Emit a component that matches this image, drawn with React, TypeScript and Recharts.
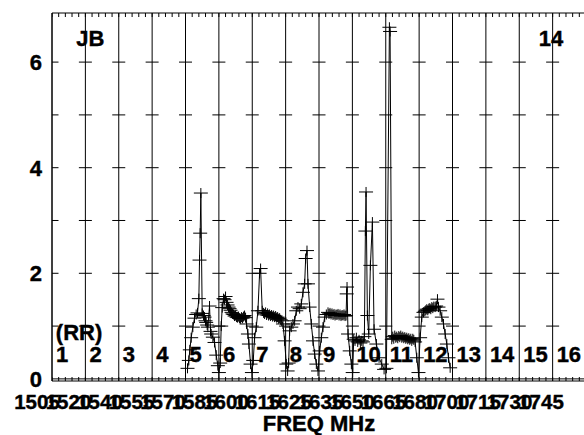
import React from "react";
import {
  ComposedChart,
  Line,
  Scatter,
  XAxis,
  YAxis,
  CartesianGrid,
  ReferenceLine,
  ReferenceDot,
} from "recharts";

// position along the band, in channel units (channel n spans n-1 .. n)
const chanPos = [
  4.06, 4.1, 4.13, 4.17, 4.22, 4.27, 4.32, 4.36, 4.4, 4.42, 4.44, 4.46, 4.5, 4.54, 4.57, 4.6, 4.62, 4.65, 4.67, 4.72, 4.75, 4.77, 4.82, 4.87, 4.92, 4.97,
  5.0, 5.04, 5.07, 5.1, 5.14, 5.17, 5.2, 5.23, 5.26, 5.29, 5.32, 5.35, 5.38, 5.41, 5.44, 5.47, 5.5, 5.53, 5.56, 5.59, 5.62, 5.65, 5.68, 5.71, 5.74, 5.77, 5.8, 5.83, 5.87, 5.9, 5.95,
  5.99, 6.03, 6.07, 6.12, 6.17, 6.22, 6.25, 6.3, 6.34, 6.37, 6.4, 6.43, 6.46, 6.49, 6.52, 6.55, 6.58, 6.61, 6.64, 6.67, 6.7, 6.73, 6.76, 6.79, 6.82, 6.85, 6.88, 6.92, 6.97, 7.02,
  7.06, 7.09, 7.12, 7.17, 7.22, 7.27, 7.32, 7.37, 7.42, 7.47, 7.52, 7.57, 7.6, 7.64, 7.67, 7.72, 7.77, 7.82, 7.87, 7.92,
  7.97, 8.02, 8.07, 8.12, 8.17, 8.22, 8.27, 8.3, 8.33, 8.36, 8.39, 8.42, 8.45, 8.48, 8.51, 8.54, 8.57, 8.6, 8.63, 8.66, 8.69, 8.72, 8.75, 8.78, 8.81, 8.83, 8.84, 8.87, 8.92, 8.97,
  9.01, 9.04, 9.08, 9.12, 9.16, 9.2, 9.24, 9.28, 9.32, 9.36, 9.39, 9.41, 9.45, 9.49, 9.54, 9.6, 9.65, 9.72, 9.8, 9.88, 9.95,
  10.02, 10.11, 10.13, 10.18, 10.21, 10.24, 10.27, 10.3, 10.33, 10.36, 10.39, 10.42, 10.45, 10.48, 10.51, 10.54, 10.57, 10.6, 10.63, 10.66, 10.69, 10.72, 10.75, 10.78, 10.81, 10.84, 10.88, 10.93, 10.98,
  11.03, 11.08, 11.13, 11.17, 11.2, 11.23, 11.26, 11.29, 11.32, 11.35, 11.38, 11.41, 11.44, 11.48, 11.51, 11.55, 11.58, 11.63, 11.68, 11.73, 11.78, 11.83, 11.88, 11.93,
];

const power = [
  0.2, 0.35, 0.55, 0.78, 0.98, 1.15, 1.22, 1.25, 1.52, 2.25, 2.76, 3.52, 1.24, 1.2, 1.17, 1.1, 1.07, 1.02, 0.98, 1.38, 0.9, 0.85, 0.79, 0.69, 0.45, 0.25,
  0.12, 0.3, 1.0, 1.35, 1.52, 1.5, 1.56, 1.45, 1.4, 1.36, 1.33, 1.3, 1.26, 1.23, 1.22, 1.19, 1.2, 1.17, 1.16, 1.18, 1.15, 1.14, 1.17, 1.15, 1.18, 1.2, 1.16, 1.04, 0.85, 0.66, 0.28,
  0.12, 0.35, 0.78, 0.98, 1.29, 2.0, 2.09, 1.29, 1.25, 1.23, 1.26, 1.21, 1.24, 1.2, 1.22, 1.19, 1.21, 1.18, 1.2, 1.17, 1.19, 1.16, 1.17, 1.14, 1.15, 1.12, 1.1, 1.04, 0.72, 0.28,
  0.15, 0.3, 0.91, 0.98, 1.04, 1.1, 1.29, 1.36, 1.33, 1.42, 1.64, 1.8, 2.28, 2.43, 1.8, 1.36, 1.04, 0.72, 0.47, 0.28,
  0.15, 0.53, 0.78, 0.98, 1.17, 1.22, 1.26, 1.23, 1.25, 1.22, 1.24, 1.21, 1.23, 1.2, 1.22, 1.21, 1.23, 1.2, 1.22, 1.19, 1.21, 1.2, 1.22, 1.19, 1.2, 1.61, 1.74, 0.85, 0.53, 0.28,
  0.12, 0.75, 0.72, 0.78, 0.7, 0.74, 0.68, 0.72, 0.7, 0.8, 2.8, 3.54, 1.2, 0.85, 2.15, 2.97, 0.94, 0.66, 0.4, 0.28, 0.18,
  0.2, 6.66, 6.58, 0.75, 0.8, 0.76, 0.82, 0.78, 0.8, 0.77, 0.81, 0.79, 0.82, 0.78, 0.8, 0.77, 0.79, 0.76, 0.78, 0.75, 0.77, 0.74, 0.76, 0.72, 0.76, 0.74, 0.7, 0.4, 0.12,
  0.78, 1.17, 1.26, 1.28, 1.3, 1.32, 1.3, 1.33, 1.34, 1.32, 1.36, 1.34, 1.37, 1.36, 1.38, 1.51, 1.36, 1.29, 1.17, 1.04, 0.85, 0.66, 0.4, 0.21,
];

const freqLabels = [
  "1505", "1520", "1540", "1555", "1570", "1585", "1600", "1615", "1625",
  "1635", "1650", "1665", "1680", "1700", "1715", "1730", "1745",
];
const channelNames = [
  "1", "2", "3", "4", "5", "6", "7", "8", "9", "10", "11", "12", "13", "14", "15", "16",
];
const boundaries = freqLabels.map((_, i) => i);
const yTicks = [0, 1, 2, 3, 4, 5, 6];

const Y_MIN = -0.04;
const Y_MAX = 6.93;

const FONT = "'Liberation Sans', Arial, sans-serif";

const lineData = chanPos.map((x, i) => ({ x, y: power[i] }));

// little "-" marks where the channel lines cross each integer level
const levelMarks = boundaries
  .slice(0, 16)
  .flatMap((x) => yTicks.slice(1).map((y) => ({ x, y })));

const minorX = Array.from({ length: 81 }, (_, k) => k / 5);
const minorBottom = minorX.map((x) => ({ x, y: Y_MIN }));
const minorTop = minorX.map((x) => ({ x, y: Y_MAX }));

const Cross = (props: any) => {
  const { cx, cy, index } = props;
  if (cx == null || cy == null) return <g key={index} />;
  return (
    <path
      key={index}
      d={`M${cx - 7},${cy}h14M${cx},${cy - 5}v10`}
      stroke="#000"
      strokeWidth={1}
      fill="none"
    />
  );
};

const LevelMark = (props: any) => {
  const { cx, cy, payload } = props;
  const x1 = payload.x === 0 ? cx : cx - 6.5;
  return <line x1={x1} x2={cx + 6.5} y1={cy} y2={cy} stroke="#000" strokeWidth={1} />;
};

const TickUp = (props: any) => (
  <line x1={props.cx} x2={props.cx} y1={props.cy} y2={props.cy - 4} stroke="#000" strokeWidth={1} />
);

const TickDown = (props: any) => (
  <line x1={props.cx} x2={props.cx} y1={props.cy} y2={props.cy + 4} stroke="#000" strokeWidth={1} />
);

const textStyle = {
  fill: "#000",
  stroke: "#000",
  strokeWidth: 0.4,
  fontFamily: FONT,
  fontWeight: 700,
  fontSize: 22,
};

const FreqTick = (props: any) => {
  const { x, y, index } = props;
  const label = freqLabels[index];
  const chan = channelNames[index];
  return (
    <g>
      <text
        x={x - 15 - 1.875 * index}
        y={y + 28}
        textAnchor="middle"
        {...textStyle}
        fontSize={20.5}
      >
        {label}
      </text>
      {chan && (
        <text x={x + 4} y={y - 19} textAnchor="start" {...textStyle}>
          {chan}
        </text>
      )}
    </g>
  );
};

export default function App() {
  return (
    <div
      style={{
        position: "absolute",
        left: 0,
        top: 0,
        width: 584,
        height: 435,
        overflow: "hidden",
        background: "#fff",
      }}
    >
      <ComposedChart
        width={586}
        height={435}
        margin={{ top: 13, right: 0, bottom: 0, left: 0 }}
      >
        <CartesianGrid vertical horizontal={false} stroke="#000" />

        <XAxis
          dataKey="x"
          type="number"
          domain={[0, 16]}
          ticks={boundaries}
          allowDataOverflow
          height={54}
          tickLine={false}
          tickSize={0}
          tickMargin={0}
          axisLine={{ stroke: "#000" }}
          tick={<FreqTick />}
          interval={0}
          label={{
            value: "FREQ MHz",
            position: "insideBottom",
            offset: 4,
            ...textStyle,
          }}
        />

        <YAxis
          dataKey="y"
          type="number"
          domain={[Y_MIN, Y_MAX]}
          ticks={yTicks}
          allowDataOverflow
          width={52}
          tickLine={false}
          tickSize={0}
          tickMargin={10}
          axisLine={{ stroke: "#000" }}
          tickFormatter={(v: number) => (v % 2 === 0 ? String(v) : "")}
          tick={textStyle}
        />

        <ReferenceLine y={Y_MAX} stroke="#000" />
        <ReferenceLine y={0} stroke="#000" />

        <Scatter data={levelMarks} dataKey="y" shape={<LevelMark />} isAnimationActive={false} />
        <Scatter data={minorBottom} dataKey="y" shape={<TickUp />} isAnimationActive={false} />
        <Scatter data={minorTop} dataKey="y" shape={<TickDown />} isAnimationActive={false} />

        <Line
          data={lineData}
          dataKey="y"
          type="linear"
          stroke="#000"
          strokeWidth={1}
          dot={Cross}
          isAnimationActive={false}
        />

        <ReferenceDot
          x={1.15}
          y={6.45}
          r={0}
          fill="none"
          stroke="none"
          label={{ value: "JB", position: "center", ...textStyle }}
        />
        <ReferenceDot
          x={14.95}
          y={6.46}
          r={0}
          fill="none"
          stroke="none"
          label={{ value: "14", position: "center", ...textStyle }}
        />
        <ReferenceDot
          x={0.81}
          y={0.89}
          r={0}
          fill="none"
          stroke="none"
          label={{ value: "(RR)", position: "center", ...textStyle }}
        />
      </ComposedChart>
    </div>
  );
}
